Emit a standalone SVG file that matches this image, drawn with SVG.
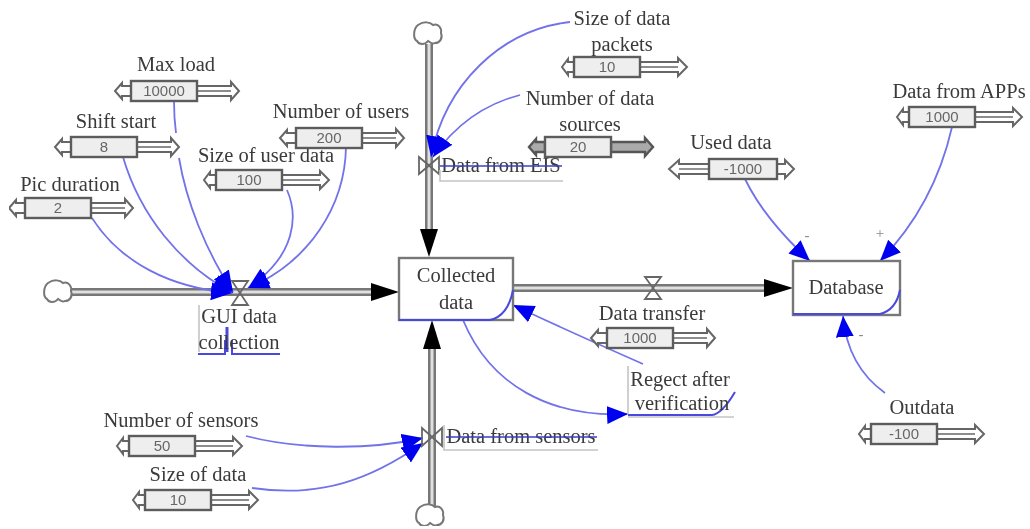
<svg xmlns="http://www.w3.org/2000/svg" width="1030" height="529" viewBox="0 0 1030 529">
<style>
text{font-family:"Liberation Serif","Times New Roman",serif;font-size:20.5px;fill:#3a3a3a;text-anchor:middle}
.val{font-family:"Liberation Sans",Arial,sans-serif;font-size:15px;fill:#666}
.body{fill:#eee;stroke:#5c5c5c;stroke-width:2.4}
.rail{fill:#fff;stroke:#666;stroke-width:2}
.dark{fill:#aaa;stroke:#555;stroke-width:2.4}
.inf{fill:none;stroke:#7272ea;stroke-width:1.8}
.arr{marker-end:url(#blue)}
.pipeO{fill:none;stroke:#777;stroke-width:8}
.pipeI{fill:none;stroke:#e0e0e0;stroke-width:3}
.stock{fill:#fff;stroke:#777;stroke-width:2.4}
.blue{fill:none;stroke:#4a4ae0;stroke-width:2}
.grey{fill:none;stroke:#c4c4c4;stroke-width:1.6}
.cloud{fill:#fff;stroke:#777;stroke-width:2}
.valve{fill:none;stroke:#666;stroke-width:1.8}
.black{fill:#000}
.strike{fill:none;stroke:#3c3cc8;stroke-width:1.4}
.sign{font-size:15px;fill:#888}
</style>
<defs>
<marker id="blue" markerUnits="userSpaceOnUse" markerWidth="24" markerHeight="20" refX="21" refY="9" orient="auto"><path d="M0 0L21 9L0 18Z" fill="#0000f0"/></marker>
<filter id="soft" x="0" y="0" width="100%" height="100%"><feGaussianBlur stdDeviation="0.6"/></filter>
<g id="sl">
<path class="rail" d="M0 5H-9V2L-16 10L-9 18V15H0Z"/>
<path class="rail" d="M66 5H100V1L108 10L100 19V15H66Z"/>
<path d="M66 10H100" stroke="#666" stroke-width="1.4"/>
<rect class="body" width="66" height="20"/>
</g>
<g id="slShort">
<path class="rail" d="M0 5H-6V2L-12 10L-6 18V15H0Z"/>
<path class="rail" d="M66 5H104V1L113 10L104 19V15H66Z"/>
<path d="M66 10H104" stroke="#666" stroke-width="1.4"/>
<rect class="body" width="66" height="20"/>
</g>
<g id="slDark">
<path class="dark" d="M0 5H-9V2L-16 10L-9 18V15H0Z"/>
<path class="dark" d="M66 5H100V1L108 10L100 19V15H66Z"/>
<rect class="body" width="66" height="20"/>
</g>
<g id="slRev">
<path class="rail" d="M0 5H-30V1L-40 10L-30 19V15H0Z"/>
<path d="M0 10H-30" stroke="#666" stroke-width="1.4"/>
<path class="rail" d="M68 5H76V1L85 10L76 19V15H68Z"/>
<rect class="body" width="68" height="20"/>
</g>
<path id="cl" d="M-10 -9C-4 -13 2 -12 5 -9C10 -11 14 -6 13 -1C15 4 12 9 7 9C4 11 2 8 0 7C-3 11 -9 11 -11 7C-15 5 -15 -5 -10 -9Z"/>
</defs>
<rect width="1030" height="529" fill="#fff"/>
<g filter="url(#soft)">
<g id="connectors">
<path class="pipeO" d="M71 292H372"/><path class="pipeI" d="M71 292H372"/>
<path class="black" d="M371 283L399 292L371 301Z"/>
<path class="pipeO" d="M429 44V230"/><path class="pipeI" d="M429 44V230"/>
<path class="black" d="M420 229L429 257L438 229Z"/>
<path class="pipeO" d="M432 506V348"/><path class="pipeI" d="M432 506V348"/>
<path class="black" d="M423 349L432 320L441 349Z"/>
<path class="pipeO" d="M513 288H766"/><path class="pipeI" d="M513 288H766"/>
<path class="black" d="M764 279L793 288L764 297Z"/>
<path class="inf" d="M174 101Q174 118 176 133"/>
<path class="inf arr" d="M179 158C186 200 205 250 233 292"/>
<path class="inf arr" d="M123 157C140 215 180 265 233 293"/>
<path class="inf arr" d="M92 218C120 262 170 288 232 293"/>
<path class="inf arr" d="M287 190C298 215 297 255 248 288"/>
<path class="inf arr" d="M346 147C345 205 310 262 248 288"/>
<path class="inf arr" d="M570 22C500 30 445 85 431 157"/>
<path class="inf arr" d="M520 95C485 104 455 125 433 157"/>
<path class="inf arr" d="M246 436C300 450 370 450 423 438"/>
<path class="inf arr" d="M252 488C320 498 370 480 423 443"/>
<path class="inf arr" d="M745 179C760 210 785 238 810 261"/>
<path class="inf arr" d="M952 127C940 180 915 225 880 261"/>
<path class="inf arr" d="M885 393C860 375 846 350 843 316"/>
<path class="inf arr" d="M643 364C600 345 555 325 513 305"/>
<path class="inf arr" d="M463 320C490 385 550 418 628 414"/>
</g>
<g id="cloud-gui"><use href="#cl" class="cloud" x="58" y="292"/></g>
<g id="cloud-eis"><use href="#cl" class="cloud" x="428" y="34"/></g>
<g id="cloud-sensors"><use href="#cl" class="cloud" x="430" y="516"/></g>
<g id="collected-data">
<rect class="stock" x="399" y="258" width="114" height="62"/>
<path class="blue" d="M399 320H490Q508 316 513 290"/>
<text x="456" y="282">Collected</text><text x="456" y="309">data</text>
</g>
<g id="database">
<rect class="stock" x="793" y="261" width="107" height="54"/>
<path class="blue" d="M793 314H880Q896 310 900 290"/>
<text x="846" y="294">Database</text>
<text class="sign" x="807" y="240">-</text><text class="sign" x="880" y="238">+</text><text class="sign" x="861" y="339">-</text>
</g>
<g id="gui-data-collection">
<path class="valve" d="M232 281H248L232 305H248Z"/>
<path class="grey" d="M199 305V352"/>
<path class="blue" d="M198 354H225V340M232 340V354H280"/>
<path d="M227 327V352" stroke="#4a4ae0" stroke-width="3"/>
<text x="239" y="323">GUI data</text><text x="239" y="349">collection</text>
</g>
<g id="data-from-eis">
<path class="valve" d="M419 157V174L439 157V174Z"/>
<path class="grey" d="M440 170V181H563"/>
<text x="501" y="172">Data from EIS</text>
<path class="strike" d="M440 166H562"/>
</g>
<g id="data-from-sensors">
<path class="valve" d="M422 428V446L442 428V446Z"/>
<path class="grey" d="M444 425V450H598"/>
<text x="521" y="443">Data from sensors</text>
<path class="strike" d="M446 437H597"/>
</g>
<g id="data-transfer">
<path class="valve" d="M645 277H661L645 299H661Z"/>
<use href="#sl" x="607" y="328"/>
<text x="652" y="320">Data transfer</text><text class="val" x="640" y="343">1000</text>
</g>
<g id="reject">
<path class="grey" d="M628 366V415"/><path class="grey" d="M628 417H734"/>
<path class="blue" d="M628 415H712Q722 414 735 392"/>
<text x="680" y="386">Regect after</text><text x="682" y="410">verification</text>
</g>
<g id="max-load"><use href="#sl" x="131" y="81"/><text x="176" y="71">Max load</text><text class="val" x="164" y="96">10000</text></g>
<g id="shift-start"><use href="#sl" x="71" y="137"/><text x="116" y="128">Shift start</text><text class="val" x="104" y="152">8</text></g>
<g id="pic-duration"><use href="#sl" x="25" y="198"/><text x="70" y="191">Pic duration</text><text class="val" x="58" y="213">2</text></g>
<g id="size-user-data"><use href="#slShort" x="216" y="170"/><text x="266" y="162">Size of user data</text><text class="val" x="249" y="185">100</text></g>
<g id="number-users"><use href="#sl" x="296" y="128"/><text x="341" y="118">Number of users</text><text class="val" x="329" y="143">200</text></g>
<g id="size-packets"><use href="#slShort" x="574" y="57"/><text x="622" y="25">Size of data</text><text x="622" y="51">packets</text><text class="val" x="607" y="72">10</text></g>
<g id="number-sources"><use href="#slDark" x="545" y="137"/><text x="590" y="105">Number of data</text><text x="590" y="131">sources</text><text class="val" x="578" y="152">20</text></g>
<g id="used-data"><use href="#slRev" x="709" y="159"/><text x="731" y="149">Used data</text><text class="val" x="743" y="174">-1000</text></g>
<g id="data-apps"><use href="#slShort" x="909" y="107"/><text x="959" y="98">Data from APPs</text><text class="val" x="942" y="122">1000</text></g>
<g id="outdata"><use href="#slShort" x="871" y="424"/><text x="922" y="414">Outdata</text><text class="val" x="904" y="439">-100</text></g>
<g id="number-sensors"><use href="#slShort" x="129" y="436"/><text x="181" y="427">Number of sensors</text><text class="val" x="162" y="451">50</text></g>
<g id="size-data"><use href="#slShort" x="145" y="490"/><text x="198" y="481">Size of data</text><text class="val" x="178" y="505">10</text></g>
</g>
</svg>
